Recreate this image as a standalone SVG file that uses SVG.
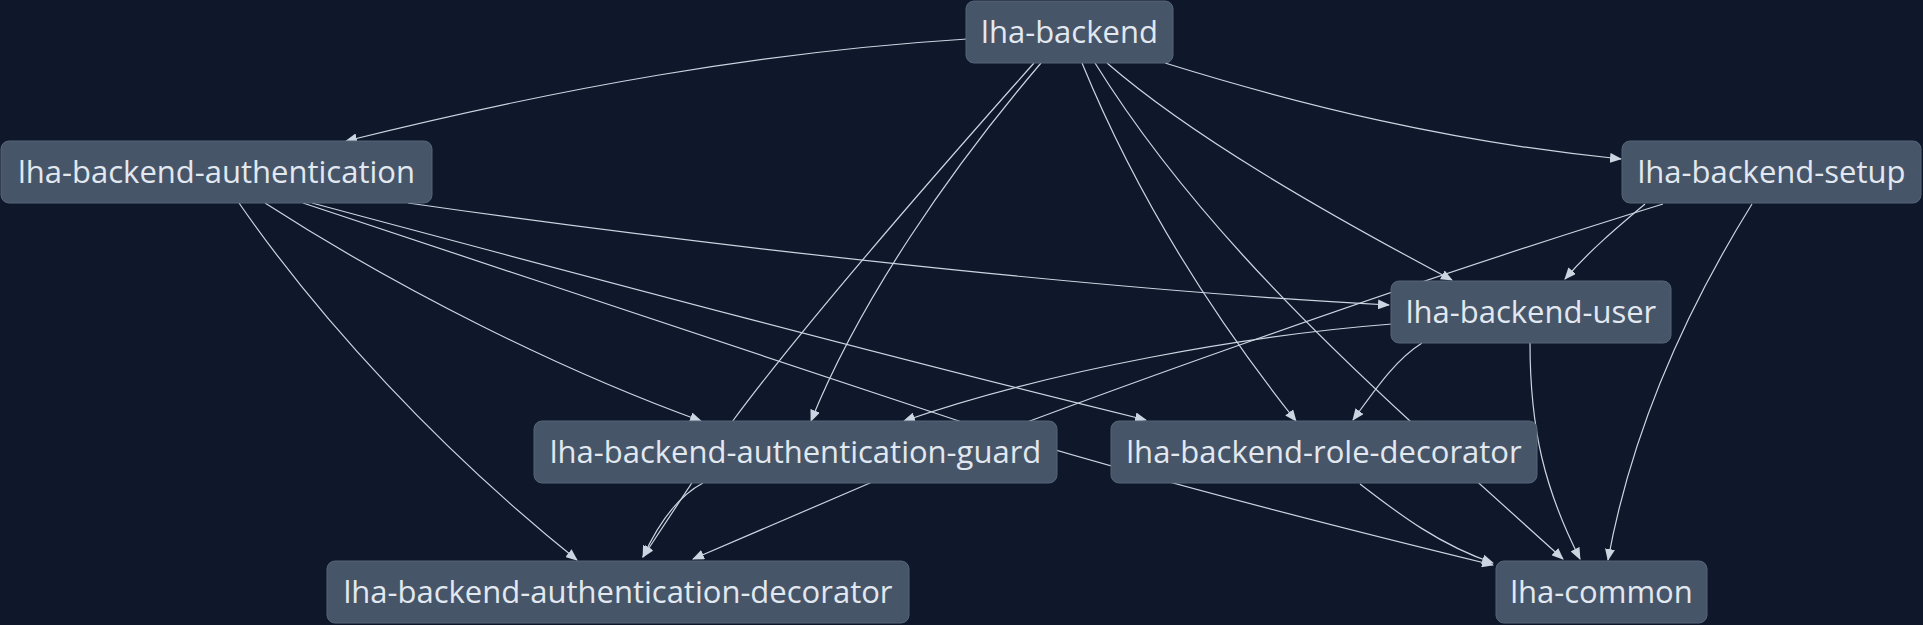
<svg xmlns="http://www.w3.org/2000/svg" width="1923" height="625" viewBox="0 0 1923 625">
<style>
.bg{fill:#0f172a}
.node rect{fill:#475569;stroke:#56647a;stroke-width:1}
.node text{font-family:"Open Sans","Noto Sans",sans-serif;font-size:31px;fill:#e2e8f0;text-anchor:middle}
.edges path{fill:none;stroke:#cbd5e1;stroke-width:1.2}
</style>
<defs>
<marker id="arr" markerUnits="userSpaceOnUse" markerWidth="12" markerHeight="10" refX="11" refY="5" orient="auto">
<path d="M0,0 L12,5 L0,10 z" fill="#cbd5e1"/>
</marker>
</defs>
<rect class="bg" x="0" y="0" width="1923" height="625"/>
<g class="edges">
<path d="M967,39 C 760,52 560,88 346,141" marker-end="url(#arr)"/>
<path d="M1165,63 C 1300,105 1450,142 1621,159" marker-end="url(#arr)"/>
<path d="M1107,63 C 1190,135 1320,210 1452,280" marker-end="url(#arr)"/>
<path d="M1082,63 C 1130,180 1200,300 1296,421" marker-end="url(#arr)"/>
<path d="M1041,63 C 950,170 860,300 811,421" marker-end="url(#arr)"/>
<path d="M1034,63 C 930,180 800,330 732,422 L 643,557" marker-end="url(#arr)"/>
<path d="M1095,63 C 1180,200 1300,320 1410,421 L 1563,559" marker-end="url(#arr)"/>
<path d="M239,203 C 320,320 440,450 577,560" marker-end="url(#arr)"/>
<path d="M265,203 C 400,290 560,370 701,421" marker-end="url(#arr)"/>
<path d="M303,203 C 520,275 760,355 959,421 C 1100,465 1300,518 1493,565" marker-end="url(#arr)"/>
<path d="M312,203 C 600,280 900,360 1146,420" marker-end="url(#arr)"/>
<path d="M408,203 C 700,245 1100,290 1389,305" marker-end="url(#arr)"/>
<path d="M1663,204 C 1400,285 1050,410 870,483 L 693,559" marker-end="url(#arr)"/>
<path d="M1645,204 C 1620,225 1590,250 1565,279" marker-end="url(#arr)"/>
<path d="M1752,204 C 1680,320 1630,440 1608,560" marker-end="url(#arr)"/>
<path d="M1392,324 C 1250,335 1050,370 904,421" marker-end="url(#arr)"/>
<path d="M1422,343 C 1395,360 1375,390 1353,420" marker-end="url(#arr)"/>
<path d="M1530,343 C 1530,430 1545,490 1580,559" marker-end="url(#arr)"/>
<path d="M703,483 C 680,495 660,520 643,557" marker-end="url(#arr)"/>
<path d="M1360,484 C 1400,515 1440,545 1493,563" marker-end="url(#arr)"/>
</g>
<g id="lha-backend" class="node"><rect x="966" y="1" width="207" height="62" rx="8"/><text x="1069.5" y="43">lha-backend</text></g>
<g id="lha-backend-authentication" class="node"><rect x="1" y="141" width="431" height="62" rx="8"/><text x="216.5" y="183">lha-backend-authentication</text></g>
<g id="lha-backend-setup" class="node"><rect x="1622" y="141" width="299" height="62" rx="8"/><text x="1771.5" y="183">lha-backend-setup</text></g>
<g id="lha-backend-user" class="node"><rect x="1391" y="281" width="280" height="62" rx="8"/><text x="1531" y="323">lha-backend-user</text></g>
<g id="lha-backend-authentication-guard" class="node"><rect x="534" y="421" width="523" height="62" rx="8"/><text x="795.5" y="463">lha-backend-authentication-guard</text></g>
<g id="lha-backend-role-decorator" class="node"><rect x="1111" y="421" width="426" height="62" rx="8"/><text x="1324" y="463">lha-backend-role-decorator</text></g>
<g id="lha-backend-authentication-decorator" class="node"><rect x="327" y="561" width="582" height="62" rx="8"/><text x="618" y="603">lha-backend-authentication-decorator</text></g>
<g id="lha-common" class="node"><rect x="1496" y="561" width="211" height="62" rx="8"/><text x="1601.5" y="603">lha-common</text></g>
</svg>
